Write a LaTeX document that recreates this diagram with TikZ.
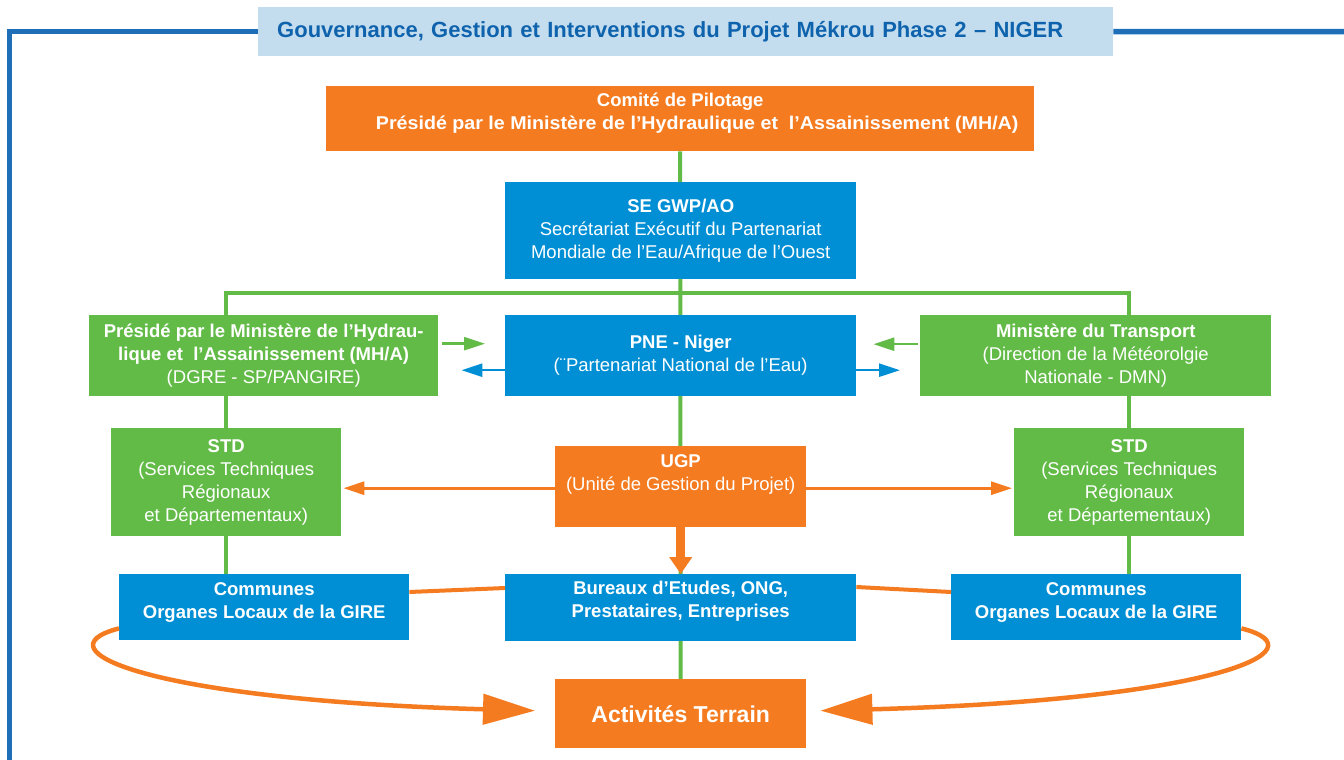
\documentclass[tikz,border=0pt]{standalone}
\usepackage{fontspec}
\setmainfont{Liberation Sans}
\usetikzlibrary{arrows.meta,backgrounds}
\definecolor{orng}{HTML}{F47B20}
\definecolor{bleu}{HTML}{008FD5}
\definecolor{vert}{HTML}{62BB47}
\definecolor{ciel}{HTML}{C3DDEF}
\definecolor{cadre}{HTML}{1F6FB8}
\definecolor{titre}{HTML}{0F63AD}

\begin{document}
\begin{tikzpicture}[x=1pt,y=-1pt,
  box/.style={anchor=north west,inner sep=0pt,align=center,text=white,font=\fontsize{18.5}{23}\selectfont},
  trunk/.style={draw=vert,line width=4pt},
  fleche/.style={line width=2.5pt,-{Triangle[length=21pt,width=13pt]}},
  grosse/.style={draw=orng,line width=4.5pt,-{Triangle[length=52pt,width=30pt]}}]
\useasboundingbox (0,0) rectangle (1344,760);

\node[box,fill=ciel,minimum width=855pt,minimum height=49pt,text width=817pt,inner xsep=19pt,align=left,text=titre,font=\fontsize{22}{26}\selectfont\bfseries] (title) at (258,7) {Gouvernance, Gestion et Interventions du Projet Mékrou Phase 2 – NIGER};
\coordinate (frameBL) at (9.5,762);
\coordinate (frameR) at (1346,31.5);
\draw[cadre,line width=5.5pt] (title.west) -| (frameBL);
\draw[cadre,line width=5.5pt] (title.east) -- (frameR);

\node[box,fill=orng,minimum width=708pt,minimum height=65pt,text depth=15pt] (copil) at (326,86) {\bfseries Comité de Pilotage\\\bfseries \hspace*{34pt}\scalebox{1.063}[1]{Présidé par le Ministère de l’Hydraulique et \ l’Assainissement (MH/A)}};
\node[box,fill=bleu,minimum width=351pt,minimum height=97pt] (se) at (505,182) {\bfseries SE GWP/AO\\Secrétariat Exécutif du Partenariat\\Mondiale de l’Eau/Afrique de l’Ouest};
\node[box,fill=vert,minimum width=349pt,minimum height=81pt] (gl) at (89,315) {\bfseries Présidé par le Ministère de l’Hydrau-\\\bfseries lique et \ l’Assainissement (MH/A)\\(DGRE - SP/PANGIRE)};
\node[box,fill=bleu,minimum width=351pt,minimum height=81pt] (pne) at (505,315) {\bfseries PNE - Niger\\(¨Partenariat National de l’Eau)};
\node[box,fill=vert,minimum width=351pt,minimum height=81pt] (gr) at (920,315) {\bfseries Ministère du Transport\\(Direction de la Météorolgie\\Nationale - DMN)};
\node[box,fill=vert,minimum width=230pt,minimum height=108pt] (stdL) at (111,428) {\bfseries STD\\(Services Techniques\\Régionaux\\et Départementaux)};
\node[box,fill=orng,minimum width=251pt,minimum height=81pt,text depth=28pt] (ugp) at (555,446) {\bfseries UGP\\(Unité de Gestion du Projet)};
\node[box,fill=vert,minimum width=230pt,minimum height=108pt] (stdR) at (1014,428) {\bfseries STD\\(Services Techniques\\Régionaux\\et Départementaux)};
\node[box,fill=bleu,minimum width=290pt,minimum height=66pt,text depth=14pt] (comL) at (119,574) {\bfseries Communes\\\bfseries Organes Locaux de la GIRE};
\node[box,fill=bleu,minimum width=351pt,minimum height=67pt,text depth=16pt] (bur) at (505,574) {\bfseries Bureaux d’Etudes, ONG,\\\bfseries Prestataires, Entreprises};
\node[box,fill=bleu,minimum width=290pt,minimum height=66pt,text depth=14pt] (comR) at (951,574) {\bfseries Communes\\\bfseries Organes Locaux de la GIRE};
\node[box,fill=orng,minimum width=251pt,minimum height=69pt,font=\fontsize{23}{27}\selectfont\bfseries] (act) at (555,679) {Activités Terrain};

\coordinate (hub) at (681,293);
\begin{scope}[on background layer]
\draw[trunk] (copil.south) -- (act.north);
\draw[trunk] (stdL.center |- comL.north) |- (hub) -| (stdR.center |- comR.north);
\end{scope}

\draw[fleche,vert,shorten <=4pt,shorten >=20pt] ([yshift=12pt]gl.east) -- ([yshift=12pt]pne.west);
\draw[fleche,bleu,shorten >=23pt] ([yshift=-14.5pt]pne.west) -- ([yshift=-14.5pt]gl.east);
\draw[fleche,vert,shorten <=2pt,shorten >=17pt] ([yshift=11.5pt]gr.west) -- ([yshift=11.5pt]pne.east);
\draw[fleche,bleu,shorten >=20pt] ([yshift=-14.5pt]pne.east) -- ([yshift=-14.5pt]gr.west);
\draw[fleche,orng,line width=3pt,shorten >=2pt] ([yshift=-1.5pt]ugp.west) -- ([yshift=-1.5pt]stdL.east |- ugp.west);
\draw[fleche,orng,line width=3pt,shorten >=2pt] ([yshift=-1.5pt]ugp.east) -- ([yshift=-1.5pt]stdR.west |- ugp.east);
\draw[orng,line width=9pt,-{Triangle[length=17pt,width=22pt]}] (ugp.south) -- (bur.north);

\draw[orng,line width=4pt] ([yshift=-18pt]comL.north east) -- ([yshift=-14pt]bur.north west);
\draw[orng,line width=4pt] ([yshift=-13pt]bur.north east) -- ([yshift=-18pt]comR.north west);
\draw[grosse] ([yshift=12pt]comL.south west) .. controls (36,650) and (150,700) .. ([shift={(-20,-3)}]act.west);
\draw[grosse] ([yshift=12pt]comR.south east) .. controls (1326,650) and (1212,700) .. ([shift={(14,-3)}]act.east);
\end{tikzpicture}
\end{document}
